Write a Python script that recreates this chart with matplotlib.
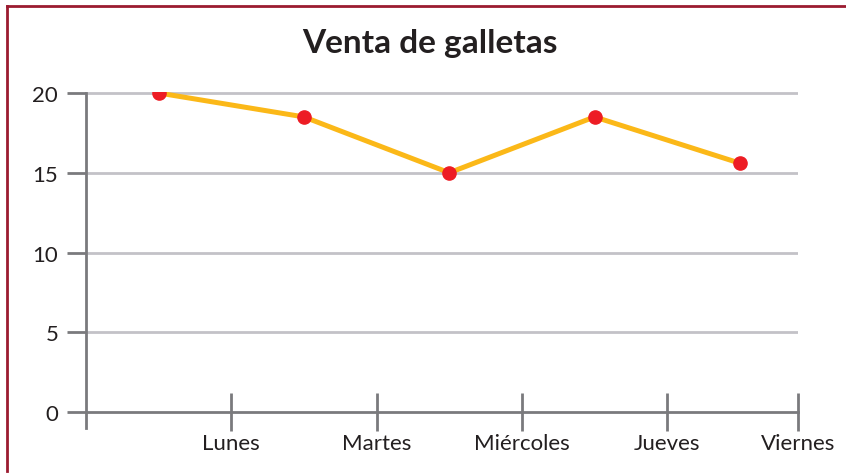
import matplotlib.pyplot as plt
from matplotlib.lines import Line2D

dias = ['Lunes', 'Martes', 'Miércoles', 'Jueves', 'Viernes']
ventas = [20, 18.5, 15, 18.5, 15.6]
y_ticks = [0, 5, 10, 15, 20]

fig = plt.figure(figsize=(8.46, 4.77), dpi=100)
ax = fig.add_axes([86/846, 48/477, 712/846, 335.8/477])

# points sit between the day ticks
pos = [i + 0.5 for i in range(len(ventas))]
ax.plot(pos, ventas, color='#fbb818', lw=3.6, solid_capstyle='round', zorder=3)
ax.plot(pos, ventas, 'o', color='#ed1c24', ms=9.5, zorder=4)

ax.set_xlim(0, 4.9)
ax.set_ylim(-1, 20.05)
ax.set_xticks([1, 2, 3, 4, 4.9])
ax.set_xticklabels(dias)
ax.set_yticks(y_ticks)
ax.set_yticklabels([str(v) for v in y_ticks])

for v in y_ticks[1:]:
    ax.axhline(v, color='#c3c2c7', lw=2, zorder=1)

for s in ['top', 'right']:
    ax.spines[s].set_visible(False)
ax.spines['bottom'].set_position(('data', 0))
ax.spines['left'].set_bounds(-1, 20)
for s in ['bottom', 'left']:
    ax.spines[s].set_color('#7a7a7d')
    ax.spines[s].set_linewidth(2)

ax.tick_params(axis='x', direction='inout', length=28, width=2, color='#7a7a7d', pad=1,
               labelsize=16, labelcolor='#231f20')
ax.tick_params(axis='y', direction='out', length=14, width=2, color='#7a7a7d', pad=6,
               labelsize=16, labelcolor='#231f20')
for lab in ax.get_xticklabels() + ax.get_yticklabels():
    lab.set_family('Lato')

fig.text(430/846, 1 - 43/477, 'Venta de galletas', ha='center', va='center',
         fontsize=24, fontweight='bold', color='#231f20', family='Lato')

# dark red frame on top and left
frame = '#9b1b30'
fig.add_artist(Line2D([7/846, 1], [1 - 7/477, 1 - 7/477], color=frame, lw=2, transform=fig.transFigure))
fig.add_artist(Line2D([7/846, 7/846], [1 - 7/477, 1 - 472/477], color=frame, lw=2, transform=fig.transFigure))

fig.savefig('out.png', dpi=100)
